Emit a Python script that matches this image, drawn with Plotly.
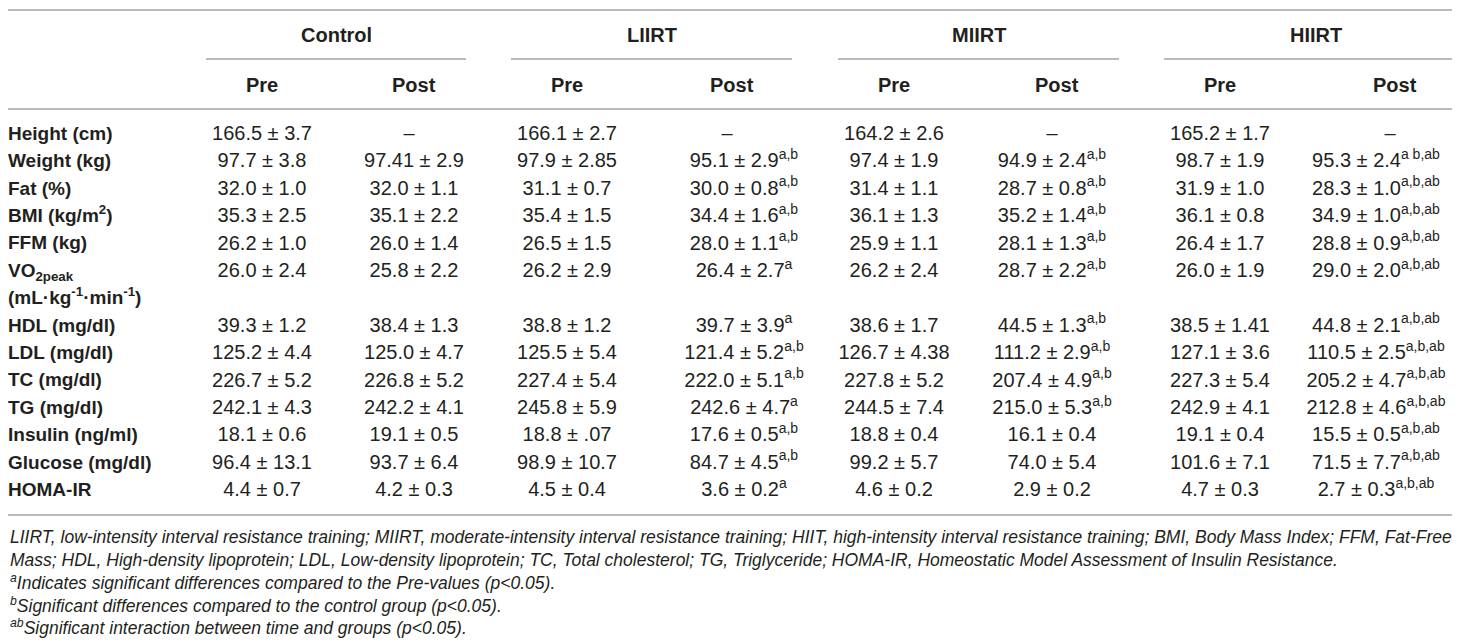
import plotly.graph_objects as go

# table content
row_labels = ["Height (cm)", "Weight (kg)", "Fat (%)", "BMI (kg/m<sup>2</sup>)", "FFM (kg)",
              "VO<sub>2peak</sub>", "HDL (mg/dl)", "LDL (mg/dl)", "TC (mg/dl)", "TG (mg/dl)",
              "Insulin (ng/ml)", "Glucose (mg/dl)", "HOMA-IR"]
vo2_unit = "(mL·kg<sup>-1</sup>·min<sup>-1</sup>)"

groups = ["Control", "LIIRT", "MIIRT", "HIIRT"]
times = ["Pre", "Post"]

control_pre = ["166.5 ± 3.7", "97.7 ± 3.8", "32.0 ± 1.0", "35.3 ± 2.5", "26.2 ± 1.0", "26.0 ± 2.4",
               "39.3 ± 1.2", "125.2 ± 4.4", "226.7 ± 5.2", "242.1 ± 4.3", "18.1 ± 0.6", "96.4 ± 13.1", "4.4 ± 0.7"]
control_post = ["–", "97.41 ± 2.9", "32.0 ± 1.1", "35.1 ± 2.2", "26.0 ± 1.4", "25.8 ± 2.2",
                "38.4 ± 1.3", "125.0 ± 4.7", "226.8 ± 5.2", "242.2 ± 4.1", "19.1 ± 0.5", "93.7 ± 6.4", "4.2 ± 0.3"]
liirt_pre = ["166.1 ± 2.7", "97.9 ± 2.85", "31.1 ± 0.7", "35.4 ± 1.5", "26.5 ± 1.5", "26.2 ± 2.9",
             "38.8 ± 1.2", "125.5 ± 5.4", "227.4 ± 5.4", "245.8 ± 5.9", "18.8 ± .07", "98.9 ± 10.7", "4.5 ± 0.4"]
liirt_post = ["–", "95.1 ± 2.9", "30.0 ± 0.8", "34.4 ± 1.6", "28.0 ± 1.1", "26.4 ± 2.7",
              "39.7 ± 3.9", "121.4 ± 5.2", "222.0 ± 5.1", "242.6 ± 4.7", "17.6 ± 0.5", "84.7 ± 4.5", "3.6 ± 0.2"]
liirt_post_sig = ["", "a,b", "a,b", "a,b", "a,b", "a", "a", "a,b", "a,b", "a", "a,b", "a,b", "a"]
miirt_pre = ["164.2 ± 2.6", "97.4 ± 1.9", "31.4 ± 1.1", "36.1 ± 1.3", "25.9 ± 1.1", "26.2 ± 2.4",
             "38.6 ± 1.7", "126.7 ± 4.38", "227.8 ± 5.2", "244.5 ± 7.4", "18.8 ± 0.4", "99.2 ± 5.7", "4.6 ± 0.2"]
miirt_post = ["–", "94.9 ± 2.4", "28.7 ± 0.8", "35.2 ± 1.4", "28.1 ± 1.3", "28.7 ± 2.2",
              "44.5 ± 1.3", "111.2 ± 2.9", "207.4 ± 4.9", "215.0 ± 5.3", "16.1 ± 0.4", "74.0 ± 5.4", "2.9 ± 0.2"]
miirt_post_sig = ["", "a,b", "a,b", "a,b", "a,b", "a,b", "a,b", "a,b", "a,b", "a,b", "", "", ""]
hiirt_pre = ["165.2 ± 1.7", "98.7 ± 1.9", "31.9 ± 1.0", "36.1 ± 0.8", "26.4 ± 1.7", "26.0 ± 1.9",
             "38.5 ± 1.41", "127.1 ± 3.6", "227.3 ± 5.4", "242.9 ± 4.1", "19.1 ± 0.4", "101.6 ± 7.1", "4.7 ± 0.3"]
hiirt_post = ["–", "95.3 ± 2.4", "28.3 ± 1.0", "34.9 ± 1.0", "28.8 ± 0.9", "29.0 ± 2.0",
              "44.8 ± 2.1", "110.5 ± 2.5", "205.2 ± 4.7", "212.8 ± 4.6", "15.5 ± 0.5", "71.5 ± 7.7", "2.7 ± 0.3"]
hiirt_post_sig = ["", "a b,ab"] + ["a,b,ab"] * 11

footnotes = [
    "LIIRT, low-intensity interval resistance training; MIIRT, moderate-intensity interval resistance training; "
    "HIIT, high-intensity interval resistance training; BMI, Body Mass Index; FFM, Fat-Free",
    "Mass; HDL, High-density lipoprotein; LDL, Low-density lipoprotein; TC, Total cholesterol; TG, Triglyceride; "
    "HOMA-IR, Homeostatic Model Assessment of Insulin Resistance.",
    "<sup>a</sup>Indicates significant differences compared to the Pre-values (p&lt;0.05).",
    "<sup>b</sup>Significant differences compared to the control group (p&lt;0.05).",
    "<sup>ab</sup>Significant interaction between time and groups (p&lt;0.05).",
]


def with_sig(vals, sig):
    return [v + (f"<sup>{s}</sup>" if s else "") for v, s in zip(vals, sig)]


columns = [
    control_pre, control_post,
    liirt_pre, with_sig(liirt_post, liirt_post_sig),
    miirt_pre, with_sig(miirt_post, miirt_post_sig),
    hiirt_pre, with_sig(hiirt_post, hiirt_post_sig),
]

# layout in page pixels
W, H = 1460, 642
col_x = [254, 406, 559, 724, 886, 1049, 1212, 1387]      # header centres
value_x = [254, 406, 559, 736, 886, 1044, 1212, 1368]    # centre of the number (superscript hangs right)
group_span = [(198, 458), (503, 784), (830, 1111), (1156, 1460)]
row0, pitch = 127, 27.4
# VO2peak label takes two lines, so rows after it shift by one
row_slot = [i if i <= 5 else i + 1 for i in range(len(row_labels))]
row_y = [row0 + pitch * s for s in row_slot]

font = "Liberation Sans, Arial, sans-serif"
ink = "#231f20"
rule = "#a3a3a3"

fig = go.Figure()

fig.add_trace(go.Scatter(
    x=[0] * len(row_labels), y=row_y, text=row_labels, mode="text",
    textposition="middle right",
    textfont=dict(family=font, size=19, color=ink, weight="bold"),
))
fig.add_trace(go.Scatter(
    x=[0], y=[row0 + pitch * 6], text=[vo2_unit], mode="text",
    textposition="middle right",
    textfont=dict(family=font, size=19, color=ink, weight="bold"),
))

for hx, vx, vals in zip(col_x, value_x, columns):
    # the dash placeholder stays under the header, numbers follow the column
    xs = [hx - 5 if v == "–" else vx for v in vals]
    fig.add_trace(go.Scatter(
        x=xs, y=row_y, text=vals, mode="text",
        textposition="middle center",
        textfont=dict(family=font, size=20, color=ink),
    ))

# headers
for g, (x0, x1) in zip(groups, group_span):
    fig.add_annotation(x=(x0 + x1) / 2, y=27, text=g, showarrow=False,
                       font=dict(family=font, size=20, color=ink, weight="bold"))
    fig.add_shape(type="line", x0=x0, x1=x1, y0=51, y1=51, line=dict(color=rule, width=1.5))
for i, cx in enumerate(col_x):
    fig.add_annotation(x=cx, y=77, text=times[i % 2], showarrow=False,
                       font=dict(family=font, size=20, color=ink, weight="bold"))

for yy in [2, 101, 507]:
    fig.add_shape(type="line", x0=0, x1=W, y0=yy, y1=yy, line=dict(color=rule, width=1.5))

for k, note in enumerate(footnotes):
    fig.add_annotation(x=0, y=529 + 22.5 * k, text=f"<i>{note}</i>", showarrow=False,
                       xanchor="left", font=dict(family=font, size=17.5, color=ink))

fig.update_xaxes(range=[0, W], visible=False, fixedrange=True)
fig.update_yaxes(range=[H, 0], visible=False, fixedrange=True)
fig.update_traces(cliponaxis=False, hoverinfo="skip")
fig.update_layout(width=W, height=H, margin=dict(l=0, r=0, t=0, b=0),
                  plot_bgcolor="white", paper_bgcolor="white", showlegend=False)
fig.write_html("out.html")
